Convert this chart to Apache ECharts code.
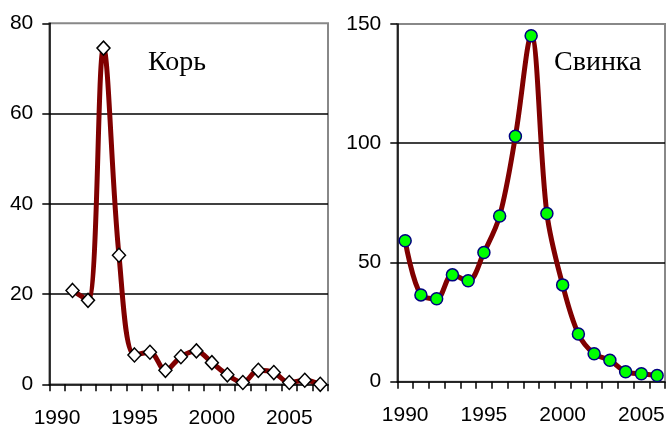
<!DOCTYPE html>
<html>
<head>
<meta charset="utf-8">
<script src="https://cdn.jsdelivr.net/npm/echarts@6/dist/echarts.min.js"></script>
<style>html,body{margin:0;padding:0;background:#fff;}#c{width:667px;height:426px;}</style>
</head>
<body>
<div id="c"></div>
<script>
// Left chart: Корь (measles)
const measlesYears = ['1990','1991','1992','1993','1994','1995','1996','1997','1998','1999','2000','2001','2002','2003','2004','2005','2006','2007'];
const measlesValues = [null, 20.8, 18.6, 74.5, 28.6, 6.5, 7.1, 3.1, 6.1, 7.4, 4.8, 2.1, 0.4, 3.1, 2.6, 0.4, 0.9, 0.0];
const measlesTitle = 'Корь';
const measlesYTicks = {min: 0, max: 80, interval: 20};

// Right chart: Свинка (mumps)
const mumpsYears = ['1990','1991','1992','1993','1994','1995','1996','1997','1998','1999','2000','2001','2002','2003','2004','2005','2006'];
const mumpsValues = [59.1, 36.4, 34.8, 44.8, 42.3, 54.2, 69.5, 102.9, 145.1, 70.5, 40.6, 20.0, 11.7, 9.0, 4.2, 3.3, 2.6];
const mumpsTitle = 'Свинка';
const mumpsYTicks = {min: 0, max: 150, interval: 50};

const chart = echarts.init(document.getElementById('c'), null, {renderer: 'canvas'});

const labelFont = {fontFamily: 'Liberation Sans', fontSize: 21, color: '#000'};

function xAxisCfg(idx, cats) {
  return {
    type: 'category', gridIndex: idx, data: cats, boundaryGap: true,
    axisLine: {show: true, lineStyle: {color: '#000', width: 1.5}},
    axisTick: {show: true, interval: 0, length: 7, lineStyle: {color: '#000', width: 1.5}},
    axisLabel: Object.assign({interval: 4, margin: 23}, labelFont),
    splitLine: {show: false}
  };
}
function yAxisCfg(idx, t) {
  return {
    type: 'value', gridIndex: idx, min: t.min, max: t.max, interval: t.interval,
    axisLine: {show: true, lineStyle: {color: '#000', width: 1.5}},
    axisTick: {show: true, length: 7, lineStyle: {color: '#000', width: 1.5}},
    axisLabel: Object.assign({margin: 16}, labelFont),
    splitLine: {show: true, showMinLine: false, showMaxLine: false, lineStyle: {color: '#000', width: 1.5}}
  };
}

chart.setOption({
  animation: false,
  backgroundColor: '#fff',
  title: [
    {text: measlesTitle, left: 143, top: 44, textStyle: {fontFamily: 'Liberation Serif', fontSize: 28, fontWeight: 'normal', color: '#000'}},
    {text: mumpsTitle, left: 549, top: 44, textStyle: {fontFamily: 'Liberation Serif', fontSize: 28, fontWeight: 'normal', color: '#000'}}
  ],
  grid: [
    {left: 49.3, top: 23.3, width: 278.7, height: 361, outerBoundsMode: 'none', containLabel: false, show: true, borderColor: '#888', borderWidth: 2, backgroundColor: 'transparent'},
    {left: 397.3, top: 24, width: 267.7, height: 357.7, outerBoundsMode: 'none', containLabel: false, show: true, borderColor: '#888', borderWidth: 2, backgroundColor: 'transparent'}
  ],
  xAxis: [xAxisCfg(0, measlesYears), xAxisCfg(1, mumpsYears)],
  yAxis: [yAxisCfg(0, measlesYTicks), yAxisCfg(1, mumpsYTicks)],
  series: [
    {
      type: 'line', xAxisIndex: 0, yAxisIndex: 0, data: measlesValues,
      smooth: 0.35, connectNulls: false,
      lineStyle: {color: '#800000', width: 5},
      symbol: 'diamond', symbolSize: [13, 14], showAllSymbol: true,
      itemStyle: {color: '#fff', borderColor: '#000', borderWidth: 1.5}
    },
    {
      type: 'line', xAxisIndex: 1, yAxisIndex: 1, data: mumpsValues,
      smooth: 0.35,
      lineStyle: {color: '#800000', width: 5},
      symbol: 'circle', symbolSize: 12, showAllSymbol: true,
      itemStyle: {color: '#00ff00', borderColor: '#000080', borderWidth: 1.5}
    }
  ]
});
</script>
</body>
</html>
